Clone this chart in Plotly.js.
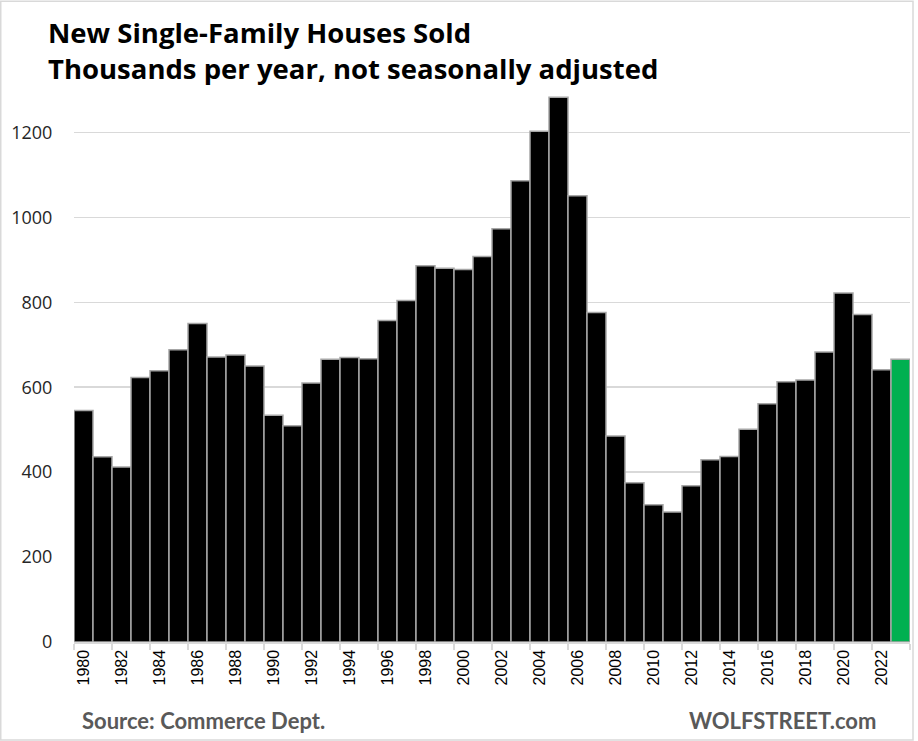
<!DOCTYPE html>
<html>
<head>
<meta charset="utf-8">
<script src="https://cdn.plot.ly/plotly-3.0.1.min.js"></script>
<style>html,body{margin:0;padding:0;background:#fff;}#chart{width:918px;height:741px;}</style>
</head>
<body>
<div id="chart"></div>
<script>
// Data (thousands of new single-family houses sold per year, NSA)
const years = [1980,1981,1982,1983,1984,1985,1986,1987,1988,1989,1990,1991,1992,1993,1994,1995,1996,1997,1998,1999,2000,2001,2002,2003,2004,2005,2006,2007,2008,2009,2010,2011,2012,2013,2014,2015,2016,2017,2018,2019,2020,2021,2022,2023];
const sales = [545,436,412,623,639,688,750,671,676,650,534,509,610,666,670,667,757,804,886,880,877,908,973,1086,1203,1283,1051,776,485,375,323,306,368,429,437,501,561,613,617,683,822,771,641,666];
const labelYears = [1980,1982,1984,1986,1988,1990,1992,1994,1996,1998,2000,2002,2004,2006,2008,2010,2012,2014,2016,2018,2020,2022];
const yTicks = [0,200,400,600,800,1000,1200];
const titleLines = ['New Single-Family Houses Sold', 'Thousands per year, not seasonally adjusted'];
const highlightYear = 2023;

const W = 918, H = 741;
const L = 74, R = 8, T = 89.5, B = 99;
const pw = W - L - R, ph = H - T - B;
const px = p => (p - L) / pw;
const py = p => (H - B - p) / ph;

const barColors = years.map(y => y === highlightYear ? '#00b050' : '#000000');

const trace = {
  type: 'bar',
  x: years,
  y: sales,
  marker: {color: barColors, line: {color: '#a6a6a6', width: 1.5}},
  hoverinfo: 'x+y'
};

const titleFont = {family: 'Open Sans, Lato, sans-serif', size: 27.5, color: '#000'};
const footFont = {family: 'Lato, Open Sans, sans-serif', size: 22, color: '#595959'};

const layout = {
  width: W, height: H,
  margin: {l: L, r: R, t: T, b: B},
  paper_bgcolor: '#ffffff',
  plot_bgcolor: '#ffffff',
  bargap: 0,
  showlegend: false,
  font: {family: 'Liberation Sans, Arial, sans-serif', color: '#000'},
  xaxis: {
    type: 'linear',
    range: [years[0] - 0.5, years[years.length - 1] + 0.5],
    tickvals: labelYears,
    ticktext: labelYears.map(String),
    tickangle: -90,
    ticks: '',
    tickfont: {family: 'Liberation Sans, Arial, sans-serif', size: 16, color: '#000'},
    showgrid: false,
    zeroline: false,
    showline: true, linecolor: '#d9d9d9', linewidth: 1.5,
    minor: {tickvals: labelYears.map(y => y - 0.5).concat([years[years.length - 1] + 0.5]), ticks: 'outside', ticklen: 6, tickcolor: '#d9d9d9', tickwidth: 1.5, showgrid: false},
    fixedrange: true
  },
  yaxis: {
    range: [0, 1300],
    tickvals: yTicks,
    ticktext: yTicks.map(String),
    ticks: 'outside', ticklen: 17, tickcolor: 'rgba(0,0,0,0)',
    tickfont: {family: 'Open Sans, Lato, sans-serif', size: 18, color: '#262626'},
    showgrid: true, gridcolor: '#d9d9d9', gridwidth: 1.5,
    zeroline: false, showline: false,
    fixedrange: true
  },
  annotations: [
    {text: '<b>' + titleLines.join('<br>') + '</b>', xref: 'paper', yref: 'paper', x: px(46), y: py(50), xanchor: 'left', yanchor: 'middle', align: 'left', showarrow: false, font: titleFont},
    {text: '<b>Source: Commerce Dept.</b>', xref: 'paper', yref: 'paper', x: px(80), y: py(721), xanchor: 'left', yanchor: 'middle', showarrow: false, font: footFont},
    {text: '<b>WOLFSTREET.com</b>', xref: 'paper', yref: 'paper', x: px(878), y: py(721), xanchor: 'right', yanchor: 'middle', showarrow: false, font: footFont}
  ],
  shapes: [
    {type: 'rect', xref: 'paper', yref: 'paper', x0: px(0.75), x1: px(913), y0: py(740), y1: py(0.75), line: {color: '#d9d9d9', width: 1.5}, fillcolor: 'rgba(0,0,0,0)', layer: 'below'}
  ]
};

Plotly.newPlot('chart', [trace], layout, {displayModeBar: false, staticPlot: true});
</script>
</body>
</html>
